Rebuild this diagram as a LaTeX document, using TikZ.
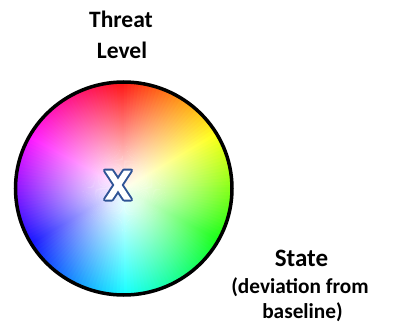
\documentclass[tikz,border=0pt]{standalone}
\usepackage{fontspec}
\setmainfont{Carlito}
\usetikzlibrary{fadings}
\definecolor{xblue}{HTML}{2F5496}
\pgfdeclareradialshading{wheelmask}{\pgfpointorigin}{color(0bp)=(white!95!black); color(5bp)=(white!85!black); color(14bp)=(white!50!black); color(27bp)=(black); color(50bp)=(black)}
\pgfdeclarefading{wheelfade}{\pgfuseshading{wheelmask}}
\tikzset{
  lbl/.style={font=\bfseries\fontsize{23.5}{28}\selectfont, anchor=base, inner sep=0pt},
  sublbl/.style={font=\bfseries\fontsize{21.3}{25}\selectfont, anchor=base, inner sep=0pt},
  rim/.style={draw=black, line width=3.5pt},
  xmark/.style={draw=xblue, line width=4pt, line join=round}
}
\begin{document}
\begin{tikzpicture}[x=1pt,y=-1pt]
\useasboundingbox (0,0) rectangle (398,331);
% colour wheel
\begin{scope}[shift={(123.75,188.5)}, yscale=-1]
  \foreach \a in {0,2,...,358}{
    \pgfmathsetmacro\h{mod(450-\a,360)}
    \definecolor{hc}{Hsb}{\h,1,1}
    \fill[hc] (0,0) -- (\a:108.25 and 106.5) arc[start angle=\a, end angle=\a+2.6, x radius=108.25, y radius=106.5] -- cycle;
  }
  \fill[white, path fading=wheelfade] (0,0) ellipse[x radius=108.25, y radius=106.5];
  \draw[rim] (0,0) ellipse[x radius=108.25, y radius=106.5];
\end{scope}
% X mark
\begin{scope}[shift={(118,185)}]
  \draw[xmark] (-13,-14.5) -- (-6,-14.5) -- (13,14.5) -- (6,14.5) -- cycle;
  \draw[xmark] (6,-14.5) -- (13,-14.5) -- (-6,14.5) -- (-13,14.5) -- cycle;
  \fill[white] (-13,-14.5) -- (-6,-14.5) -- (13,14.5) -- (6,14.5) -- cycle;
  \fill[white] (6,-14.5) -- (13,-14.5) -- (-6,14.5) -- (-13,14.5) -- cycle;
\end{scope}
% labels
\node[lbl] (threat) at (121,28) {Threat};
\node[lbl] (level) at (122,59) {Level};
\node[lbl, font=\bfseries\fontsize{25}{30}\selectfont] (state) at (301.5,266.7) {State};
\node[sublbl] (dev) at (300,293) {(deviation from};
\node[sublbl] (base) at (302.5,318) {baseline)};
\end{tikzpicture}
\end{document}
